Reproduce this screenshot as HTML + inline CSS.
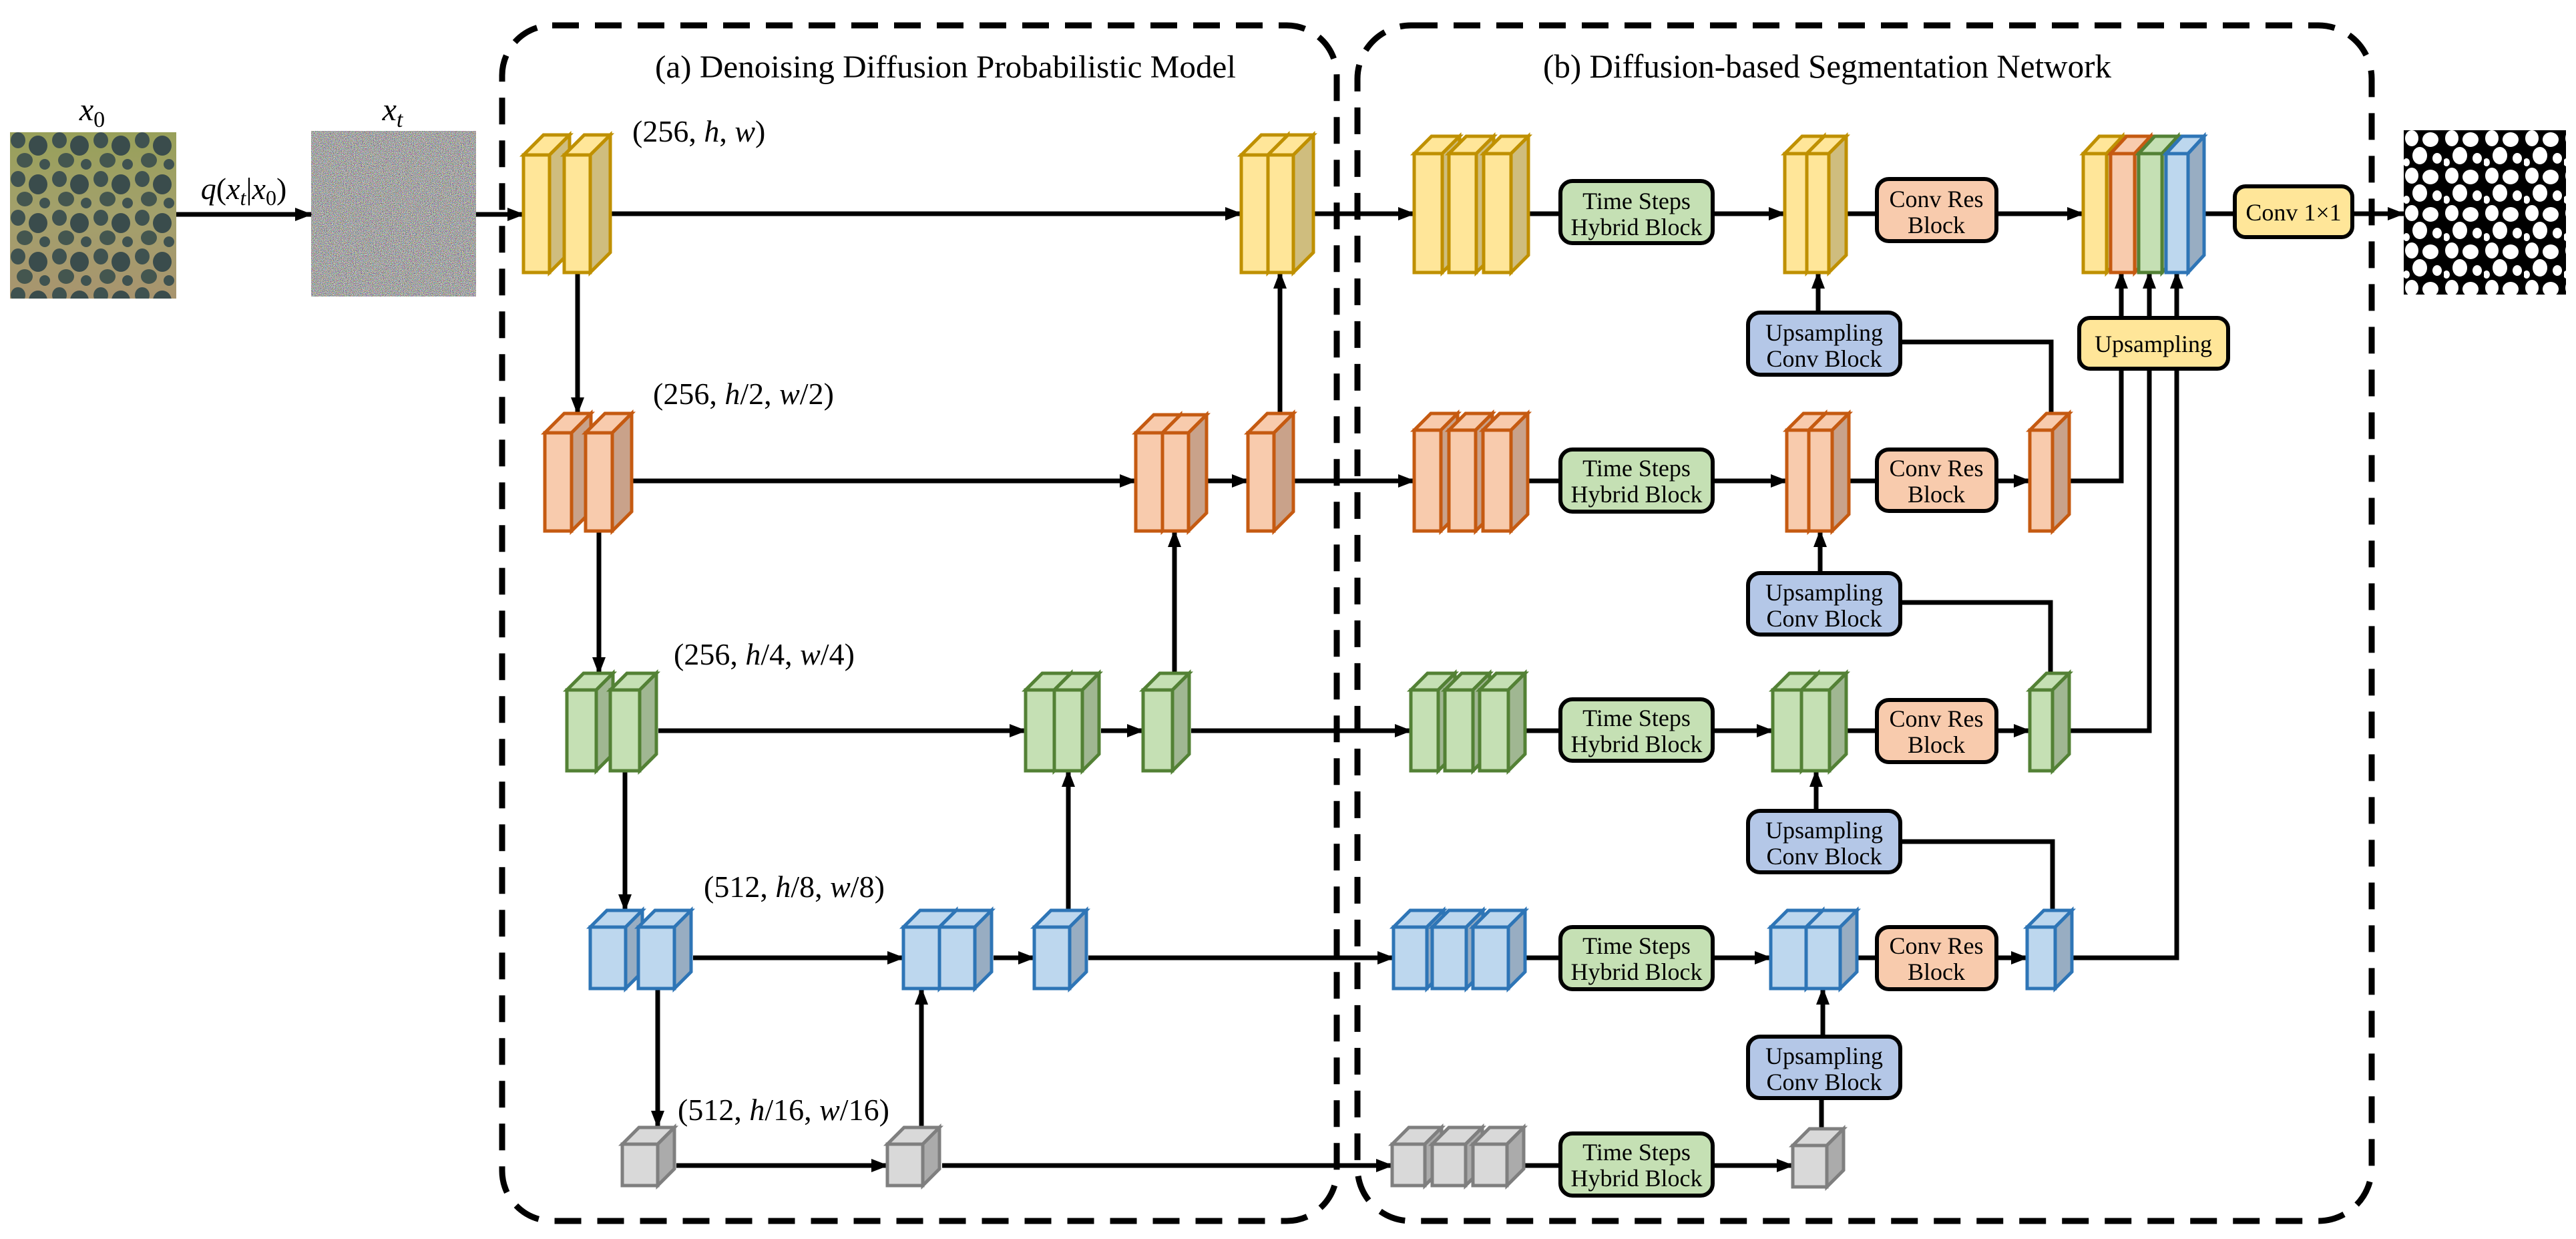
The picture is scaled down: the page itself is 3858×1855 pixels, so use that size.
<!DOCTYPE html>
<html><head><meta charset="utf-8"><style>
html,body{margin:0;padding:0;background:#fff}
svg{display:block}
text{font-family:"Liberation Serif",serif}
</style></head><body>
<svg width="3858" height="1855" viewBox="0 0 3858 1855" xmlns="http://www.w3.org/2000/svg">
<defs>
<marker id="ah" markerUnits="userSpaceOnUse" markerWidth="26" markerHeight="20" refX="24" refY="10" orient="auto"><path d="M0,0 L26,10 L0,20 Z" fill="#000"/></marker>
<linearGradient id="sea" x1="0" y1="0" x2="0" y2="1"><stop offset="0" stop-color="#98a05a"/><stop offset="0.5" stop-color="#a3a06c"/><stop offset="1" stop-color="#a8946e"/></linearGradient>
<pattern id="nod" width="62" height="58" patternUnits="userSpaceOnUse" x="15" y="198">
<ellipse cx="12" cy="12" rx="11" ry="12" fill="#3f5250"/><ellipse cx="42" cy="20" rx="14" ry="15" fill="#3a4c4c"/><ellipse cx="22" cy="42" rx="12" ry="11" fill="#44564f"/><ellipse cx="52" cy="48" rx="8" ry="8" fill="#3f5250"/></pattern>
<pattern id="seg" width="60" height="56" patternUnits="userSpaceOnUse" x="3600" y="195">
<rect width="60" height="56" fill="#000"/><ellipse cx="12" cy="12" rx="10" ry="12" fill="#fff"/><ellipse cx="40" cy="14" rx="12" ry="11" fill="#fff"/><ellipse cx="24" cy="38" rx="11" ry="13" fill="#fff"/><ellipse cx="50" cy="42" rx="7" ry="8" fill="#fff"/><ellipse cx="4" cy="48" rx="5" ry="6" fill="#fff"/></pattern>
<filter id="noise" x="0" y="0" width="1" height="1"><feTurbulence type="fractalNoise" baseFrequency="1.6" numOctaves="1" seed="3"/><feColorMatrix type="matrix" values="3 0 0 0 -1.05  0 3 0 0 -1.05  0 0 3 0 -1.05  0 0 0 0 1"/></filter>
</defs>

<rect x="15" y="198" width="249" height="249" fill="url(#sea)"/>
<rect x="15" y="198" width="249" height="249" fill="url(#nod)"/>
<rect x="466" y="196" width="247" height="248" fill="#777" filter="url(#noise)"/>
<rect x="3600" y="195" width="243" height="246" fill="url(#seg)"/>

<text x="138" y="180" font-size="48" font-style="italic" text-anchor="middle">x<tspan font-size="34" font-style="normal" dy="10">0</tspan></text>
<text x="588" y="180" font-size="48" font-style="italic" text-anchor="middle">x<tspan font-size="34" dy="10">t</tspan></text>
<text x="365" y="298" font-size="46" text-anchor="middle"><tspan font-style="italic">q</tspan>(<tspan font-style="italic">x</tspan><tspan font-size="32" font-style="italic" dy="9">t</tspan><tspan dy="-9">|</tspan><tspan font-style="italic">x</tspan><tspan font-size="32" dy="9">0</tspan><tspan dy="-9">)</tspan></text>

<rect x="752" y="38" width="1250" height="1790" rx="75" fill="none" stroke="#000" stroke-width="9" stroke-dasharray="40 24"/>
<rect x="2033" y="38" width="1519" height="1790" rx="80" fill="none" stroke="#000" stroke-width="9" stroke-dasharray="40 24"/>
<text x="981" y="116" font-size="48" textLength="870" lengthAdjust="spacingAndGlyphs">(a) Denoising Diffusion Probabilistic Model</text>
<text x="2311" y="116" font-size="50" textLength="851" lengthAdjust="spacingAndGlyphs">(b) Diffusion-based Segmentation Network</text>

<g font-size="46">
<text x="947" y="212">(256, <tspan font-style="italic">h</tspan>, <tspan font-style="italic">w</tspan>)</text>
<text x="978" y="605">(256, <tspan font-style="italic">h</tspan>/2, <tspan font-style="italic">w</tspan>/2)</text>
<text x="1009" y="995">(256, <tspan font-style="italic">h</tspan>/4, <tspan font-style="italic">w</tspan>/4)</text>
<text x="1054" y="1343">(512, <tspan font-style="italic">h</tspan>/8, <tspan font-style="italic">w</tspan>/8)</text>
<text x="1015" y="1677">(512, <tspan font-style="italic">h</tspan>/16, <tspan font-style="italic">w</tspan>/16)</text>
</g>

<g stroke="#000" stroke-width="7" fill="none">
<line x1="264" y1="321" x2="466" y2="321" marker-end="url(#ah)"/>
<line x1="713" y1="321" x2="784" y2="321" marker-end="url(#ah)"/>
<line x1="915" y1="320" x2="1859" y2="320" marker-end="url(#ah)"/>
<line x1="1967" y1="320" x2="2118" y2="320" marker-end="url(#ah)"/>
<line x1="946" y1="720" x2="1701" y2="720" marker-end="url(#ah)"/>
<line x1="1808" y1="720" x2="1869" y2="720" marker-end="url(#ah)"/>
<line x1="1937" y1="720" x2="2118" y2="720" marker-end="url(#ah)"/>
<line x1="986" y1="1094" x2="1536" y2="1094" marker-end="url(#ah)"/>
<line x1="1649" y1="1094" x2="1712" y2="1094" marker-end="url(#ah)"/>
<line x1="1784" y1="1094" x2="2113" y2="1094" marker-end="url(#ah)"/>
<line x1="1038" y1="1434" x2="1353" y2="1434" marker-end="url(#ah)"/>
<line x1="1488" y1="1434" x2="1549" y2="1434" marker-end="url(#ah)"/>
<line x1="1630" y1="1434" x2="2087" y2="1434" marker-end="url(#ah)"/>
<line x1="1013" y1="1745" x2="1329" y2="1745" marker-end="url(#ah)"/>
<line x1="1411" y1="1745" x2="2085" y2="1745" marker-end="url(#ah)"/>
<line x1="865" y1="408" x2="865" y2="619" marker-end="url(#ah)"/>
<line x1="897" y1="795" x2="897" y2="1008" marker-end="url(#ah)"/>
<line x1="936" y1="1154" x2="936" y2="1363" marker-end="url(#ah)"/>
<line x1="985" y1="1480" x2="985" y2="1687" marker-end="url(#ah)"/>
<line x1="1380" y1="1687" x2="1380" y2="1480" marker-end="url(#ah)"/>
<line x1="1600" y1="1363" x2="1600" y2="1154" marker-end="url(#ah)"/>
<line x1="1759" y1="1008" x2="1759" y2="795" marker-end="url(#ah)"/>
<line x1="1917" y1="619" x2="1917" y2="408" marker-end="url(#ah)"/>
<line x1="2288" y1="320" x2="2338" y2="320"/>
<line x1="2563" y1="320" x2="2673" y2="320" marker-end="url(#ah)"/>
<line x1="2764" y1="320" x2="2813" y2="320"/>
<line x1="2988" y1="320" x2="3120" y2="320" marker-end="url(#ah)"/>
<line x1="3301" y1="320" x2="3347" y2="320"/>
<line x1="3523" y1="320" x2="3600" y2="320" marker-end="url(#ah)"/>
<line x1="2288" y1="720" x2="2337" y2="720"/>
<line x1="2565" y1="720" x2="2676" y2="720" marker-end="url(#ah)"/>
<line x1="2768" y1="720" x2="2811" y2="720"/>
<line x1="2990" y1="720" x2="3040" y2="720" marker-end="url(#ah)"/>
<polyline points="3098,720 3177,720 3177,408"/>
<line x1="2283" y1="1094" x2="2337" y2="1094"/>
<line x1="2565" y1="1094" x2="2655" y2="1094" marker-end="url(#ah)"/>
<line x1="2764" y1="1094" x2="2811" y2="1094"/>
<line x1="2990" y1="1094" x2="3040" y2="1094" marker-end="url(#ah)"/>
<polyline points="3098,1094 3219,1094 3219,408"/>
<line x1="2283" y1="1434" x2="2337" y2="1434"/>
<line x1="2565" y1="1434" x2="2652" y2="1434" marker-end="url(#ah)"/>
<line x1="2779" y1="1434" x2="2811" y2="1434"/>
<line x1="2990" y1="1434" x2="3036" y2="1434" marker-end="url(#ah)"/>
<polyline points="3103,1434 3260,1434 3260,408"/>
<line x1="2282" y1="1745" x2="2337" y2="1745"/>
<line x1="2565" y1="1745" x2="2685" y2="1745" marker-end="url(#ah)"/>
<line x1="3177" y1="476" x2="3177" y2="408" marker-end="url(#ah)"/>
<line x1="3219" y1="476" x2="3219" y2="408" marker-end="url(#ah)"/>
<line x1="3260" y1="476" x2="3260" y2="408" marker-end="url(#ah)"/>
<line x1="2723" y1="468" x2="2723" y2="408" marker-end="url(#ah)"/>
<polyline points="2844,512 3072,512 3072,619"/>
<line x1="2726" y1="858" x2="2726" y2="795" marker-end="url(#ah)"/>
<polyline points="2846,902 3071,902 3071,1008"/>
<line x1="2720" y1="1214" x2="2720" y2="1154" marker-end="url(#ah)"/>
<polyline points="2846,1260 3074,1260 3074,1363"/>
<line x1="2730" y1="1552" x2="2730" y2="1480" marker-end="url(#ah)"/>
<line x1="2728" y1="1644" x2="2728" y2="1689"/>
</g>

<g stroke-width="5" stroke-linejoin="miter">
<g stroke="#BF9000">
<rect x="784" y="232" width="39" height="176" fill="#FFE699"/><polygon points="784,232 814,202 853,202 823,232" fill="#FFE699"/><polygon points="823,232 853,202 853,378 823,408" fill="#CFBD7E"/>
<rect x="845" y="232" width="39" height="176" fill="#FFE699"/><polygon points="845,232 875,202 914,202 884,232" fill="#FFE699"/><polygon points="884,232 914,202 914,378 884,408" fill="#CFBD7E"/>
<rect x="1859" y="232" width="40" height="176" fill="#FFE699"/><polygon points="1859,232 1889,202 1929,202 1899,232" fill="#FFE699"/><polygon points="1899,232 1929,202 1929,378 1899,408" fill="#CFBD7E"/>
<rect x="1899" y="232" width="38" height="176" fill="#FFE699"/><polygon points="1899,232 1929,202 1967,202 1937,232" fill="#FFE699"/><polygon points="1937,232 1967,202 1967,378 1937,408" fill="#CFBD7E"/>
<rect x="2118" y="230" width="42" height="178" fill="#FFE699"/><polygon points="2118,230 2144,204 2186,204 2160,230" fill="#FFE699"/><polygon points="2160,230 2186,204 2186,382 2160,408" fill="#CFBD7E"/>
<rect x="2170" y="230" width="41" height="178" fill="#FFE699"/><polygon points="2170,230 2196,204 2237,204 2211,230" fill="#FFE699"/><polygon points="2211,230 2237,204 2237,382 2211,408" fill="#CFBD7E"/>
<rect x="2222" y="230" width="41" height="178" fill="#FFE699"/><polygon points="2222,230 2248,204 2289,204 2263,230" fill="#FFE699"/><polygon points="2263,230 2289,204 2289,382 2263,408" fill="#CFBD7E"/>
<rect x="2673" y="230" width="33" height="178" fill="#FFE699"/><polygon points="2673,230 2699,204 2732,204 2706,230" fill="#FFE699"/><polygon points="2706,230 2732,204 2732,382 2706,408" fill="#CFBD7E"/>
<rect x="2706" y="230" width="33" height="178" fill="#FFE699"/><polygon points="2706,230 2732,204 2765,204 2739,230" fill="#FFE699"/><polygon points="2739,230 2765,204 2765,382 2739,408" fill="#CFBD7E"/>
<rect x="3120" y="230" width="35" height="178" fill="#FFE699"/><polygon points="3120,230 3144,204 3179,204 3155,230" fill="#FFE699"/><polygon points="3155,230 3179,204 3179,382 3155,408" fill="#CFBD7E"/>
</g>
<g stroke="#C55A11">
<rect x="3161" y="230" width="36" height="178" fill="#F8CBAD"/><polygon points="3161,230 3185,204 3221,204 3197,230" fill="#F8CBAD"/><polygon points="3197,230 3221,204 3221,382 3197,408" fill="#C9A28A"/>
<rect x="816" y="648" width="40" height="147" fill="#F8CBAD"/><polygon points="816,648 845,619 885,619 856,648" fill="#F8CBAD"/><polygon points="856,648 885,619 885,766 856,795" fill="#C9A28A"/>
<rect x="877" y="648" width="40" height="147" fill="#F8CBAD"/><polygon points="877,648 906,619 946,619 917,648" fill="#F8CBAD"/><polygon points="917,648 946,619 946,766 917,795" fill="#C9A28A"/>
<rect x="1701" y="648" width="40" height="147" fill="#F8CBAD"/><polygon points="1701,648 1728,621 1768,621 1741,648" fill="#F8CBAD"/><polygon points="1741,648 1768,621 1768,768 1741,795" fill="#C9A28A"/>
<rect x="1741" y="648" width="39" height="147" fill="#F8CBAD"/><polygon points="1741,648 1768,621 1807,621 1780,648" fill="#F8CBAD"/><polygon points="1780,648 1807,621 1807,768 1780,795" fill="#C9A28A"/>
<rect x="1869" y="648" width="39" height="147" fill="#F8CBAD"/><polygon points="1869,648 1898,619 1937,619 1908,648" fill="#F8CBAD"/><polygon points="1908,648 1937,619 1937,766 1908,795" fill="#C9A28A"/>
<rect x="2118" y="644" width="40" height="151" fill="#F8CBAD"/><polygon points="2118,644 2143,619 2183,619 2158,644" fill="#F8CBAD"/><polygon points="2158,644 2183,619 2183,770 2158,795" fill="#C9A28A"/>
<rect x="2170" y="644" width="40" height="151" fill="#F8CBAD"/><polygon points="2170,644 2195,619 2235,619 2210,644" fill="#F8CBAD"/><polygon points="2210,644 2235,619 2235,770 2210,795" fill="#C9A28A"/>
<rect x="2221" y="644" width="42" height="151" fill="#F8CBAD"/><polygon points="2221,644 2246,619 2288,619 2263,644" fill="#F8CBAD"/><polygon points="2263,644 2288,619 2288,770 2263,795" fill="#C9A28A"/>
<rect x="2676" y="644" width="33" height="151" fill="#F8CBAD"/><polygon points="2676,644 2701,619 2734,619 2709,644" fill="#F8CBAD"/><polygon points="2709,644 2734,619 2734,770 2709,795" fill="#C9A28A"/>
<rect x="2709" y="644" width="35" height="151" fill="#F8CBAD"/><polygon points="2709,644 2734,619 2769,619 2744,644" fill="#F8CBAD"/><polygon points="2744,644 2769,619 2769,770 2744,795" fill="#C9A28A"/>
<rect x="3040" y="644" width="34" height="151" fill="#F8CBAD"/><polygon points="3040,644 3065,619 3099,619 3074,644" fill="#F8CBAD"/><polygon points="3074,644 3099,619 3099,770 3074,795" fill="#C9A28A"/>
</g>
<g stroke="#538135">
<rect x="3203" y="230" width="35" height="178" fill="#C5E0B4"/><polygon points="3203,230 3227,204 3262,204 3238,230" fill="#C5E0B4"/><polygon points="3238,230 3262,204 3262,382 3238,408" fill="#A0B792"/>
<rect x="849" y="1033" width="44" height="121" fill="#C5E0B4"/><polygon points="849,1033 874,1008 918,1008 893,1033" fill="#C5E0B4"/><polygon points="893,1033 918,1008 918,1129 893,1154" fill="#A0B792"/>
<rect x="914" y="1033" width="44" height="121" fill="#C5E0B4"/><polygon points="914,1033 939,1008 983,1008 958,1033" fill="#C5E0B4"/><polygon points="958,1033 983,1008 983,1129 958,1154" fill="#A0B792"/>
<rect x="1536" y="1033" width="43" height="121" fill="#C5E0B4"/><polygon points="1536,1033 1561,1008 1604,1008 1579,1033" fill="#C5E0B4"/><polygon points="1579,1033 1604,1008 1604,1129 1579,1154" fill="#A0B792"/>
<rect x="1579" y="1033" width="42" height="121" fill="#C5E0B4"/><polygon points="1579,1033 1604,1008 1646,1008 1621,1033" fill="#C5E0B4"/><polygon points="1621,1033 1646,1008 1646,1129 1621,1154" fill="#A0B792"/>
<rect x="1712" y="1033" width="44" height="121" fill="#C5E0B4"/><polygon points="1712,1033 1737,1008 1781,1008 1756,1033" fill="#C5E0B4"/><polygon points="1756,1033 1781,1008 1781,1129 1756,1154" fill="#A0B792"/>
<rect x="2113" y="1033" width="41" height="121" fill="#C5E0B4"/><polygon points="2113,1033 2138,1008 2179,1008 2154,1033" fill="#C5E0B4"/><polygon points="2154,1033 2179,1008 2179,1129 2154,1154" fill="#A0B792"/>
<rect x="2164" y="1033" width="42" height="121" fill="#C5E0B4"/><polygon points="2164,1033 2189,1008 2231,1008 2206,1033" fill="#C5E0B4"/><polygon points="2206,1033 2231,1008 2231,1129 2206,1154" fill="#A0B792"/>
<rect x="2216" y="1033" width="43" height="121" fill="#C5E0B4"/><polygon points="2216,1033 2241,1008 2284,1008 2259,1033" fill="#C5E0B4"/><polygon points="2259,1033 2284,1008 2284,1129 2259,1154" fill="#A0B792"/>
<rect x="2655" y="1033" width="43" height="121" fill="#C5E0B4"/><polygon points="2655,1033 2680,1008 2723,1008 2698,1033" fill="#C5E0B4"/><polygon points="2698,1033 2723,1008 2723,1129 2698,1154" fill="#A0B792"/>
<rect x="2698" y="1033" width="42" height="121" fill="#C5E0B4"/><polygon points="2698,1033 2723,1008 2765,1008 2740,1033" fill="#C5E0B4"/><polygon points="2740,1033 2765,1008 2765,1129 2740,1154" fill="#A0B792"/>
<rect x="3040" y="1033" width="34" height="121" fill="#C5E0B4"/><polygon points="3040,1033 3065,1008 3099,1008 3074,1033" fill="#C5E0B4"/><polygon points="3074,1033 3099,1008 3099,1129 3074,1154" fill="#A0B792"/>
</g>
<g stroke="#2E75B6">
<rect x="3244" y="230" width="33" height="178" fill="#BDD7EE"/><polygon points="3244,230 3268,204 3301,204 3277,230" fill="#BDD7EE"/><polygon points="3277,230 3301,204 3301,382 3277,408" fill="#98ADC2"/>
<rect x="884" y="1388" width="53" height="92" fill="#BDD7EE"/><polygon points="884,1388 909,1363 962,1363 937,1388" fill="#BDD7EE"/><polygon points="937,1388 962,1363 962,1455 937,1480" fill="#98ADC2"/>
<rect x="956" y="1388" width="54" height="92" fill="#BDD7EE"/><polygon points="956,1388 981,1363 1035,1363 1010,1388" fill="#BDD7EE"/><polygon points="1010,1388 1035,1363 1035,1455 1010,1480" fill="#98ADC2"/>
<rect x="1353" y="1388" width="54" height="92" fill="#BDD7EE"/><polygon points="1353,1388 1378,1363 1432,1363 1407,1388" fill="#BDD7EE"/><polygon points="1407,1388 1432,1363 1432,1455 1407,1480" fill="#98ADC2"/>
<rect x="1407" y="1388" width="53" height="92" fill="#BDD7EE"/><polygon points="1407,1388 1432,1363 1485,1363 1460,1388" fill="#BDD7EE"/><polygon points="1460,1388 1485,1363 1485,1455 1460,1480" fill="#98ADC2"/>
<rect x="1549" y="1388" width="53" height="92" fill="#BDD7EE"/><polygon points="1549,1388 1574,1363 1627,1363 1602,1388" fill="#BDD7EE"/><polygon points="1602,1388 1627,1363 1627,1455 1602,1480" fill="#98ADC2"/>
<rect x="2087" y="1388" width="50" height="92" fill="#BDD7EE"/><polygon points="2087,1388 2112,1363 2162,1363 2137,1388" fill="#BDD7EE"/><polygon points="2137,1388 2162,1363 2162,1455 2137,1480" fill="#98ADC2"/>
<rect x="2145" y="1388" width="51" height="92" fill="#BDD7EE"/><polygon points="2145,1388 2170,1363 2221,1363 2196,1388" fill="#BDD7EE"/><polygon points="2196,1388 2221,1363 2221,1455 2196,1480" fill="#98ADC2"/>
<rect x="2206" y="1388" width="53" height="92" fill="#BDD7EE"/><polygon points="2206,1388 2231,1363 2284,1363 2259,1388" fill="#BDD7EE"/><polygon points="2259,1388 2284,1363 2284,1455 2259,1480" fill="#98ADC2"/>
<rect x="2652" y="1388" width="53" height="92" fill="#BDD7EE"/><polygon points="2652,1388 2677,1363 2730,1363 2705,1388" fill="#BDD7EE"/><polygon points="2705,1388 2730,1363 2730,1455 2705,1480" fill="#98ADC2"/>
<rect x="2705" y="1388" width="51" height="92" fill="#BDD7EE"/><polygon points="2705,1388 2730,1363 2781,1363 2756,1388" fill="#BDD7EE"/><polygon points="2756,1388 2781,1363 2781,1455 2756,1480" fill="#98ADC2"/>
<rect x="3036" y="1388" width="42" height="92" fill="#BDD7EE"/><polygon points="3036,1388 3061,1363 3103,1363 3078,1388" fill="#BDD7EE"/><polygon points="3078,1388 3103,1363 3103,1455 3078,1480" fill="#98ADC2"/>
</g>
<g stroke="#7F7F7F">
<rect x="932" y="1713" width="53" height="62" fill="#D9D9D9"/><polygon points="932,1713 957,1688 1010,1688 985,1713" fill="#D9D9D9"/><polygon points="985,1713 1010,1688 1010,1750 985,1775" fill="#ABABAB"/>
<rect x="1329" y="1713" width="53" height="62" fill="#D9D9D9"/><polygon points="1329,1713 1354,1688 1407,1688 1382,1713" fill="#D9D9D9"/><polygon points="1382,1713 1407,1688 1407,1750 1382,1775" fill="#ABABAB"/>
<rect x="2085" y="1713" width="49" height="62" fill="#D9D9D9"/><polygon points="2085,1713 2110,1688 2159,1688 2134,1713" fill="#D9D9D9"/><polygon points="2134,1713 2159,1688 2159,1750 2134,1775" fill="#ABABAB"/>
<rect x="2145" y="1713" width="50" height="62" fill="#D9D9D9"/><polygon points="2145,1713 2170,1688 2220,1688 2195,1713" fill="#D9D9D9"/><polygon points="2195,1713 2220,1688 2220,1750 2195,1775" fill="#ABABAB"/>
<rect x="2206" y="1713" width="51" height="62" fill="#D9D9D9"/><polygon points="2206,1713 2231,1688 2282,1688 2257,1713" fill="#D9D9D9"/><polygon points="2257,1713 2282,1688 2282,1750 2257,1775" fill="#ABABAB"/>
<rect x="2685" y="1715" width="51" height="62" fill="#D9D9D9"/><polygon points="2685,1715 2710,1690 2761,1690 2736,1715" fill="#D9D9D9"/><polygon points="2736,1715 2761,1690 2761,1752 2736,1777" fill="#ABABAB"/>
</g>
</g>

<g stroke="#000" stroke-width="6">
<rect x="2337" y="271" width="228" height="93" rx="18" fill="#C5E0B4"/>
<rect x="2337" y="673" width="228" height="93" rx="18" fill="#C5E0B4"/>
<rect x="2337" y="1047" width="228" height="92" rx="18" fill="#C5E0B4"/>
<rect x="2337" y="1388" width="228" height="93" rx="18" fill="#C5E0B4"/>
<rect x="2337" y="1697" width="228" height="93" rx="18" fill="#C5E0B4"/>
<rect x="2811" y="268" width="179" height="93" rx="18" fill="#F8CBAD"/>
<rect x="2811" y="673" width="179" height="92" rx="18" fill="#F8CBAD"/>
<rect x="2811" y="1048" width="179" height="93" rx="18" fill="#F8CBAD"/>
<rect x="2811" y="1388" width="179" height="93" rx="18" fill="#F8CBAD"/>
<rect x="2618" y="468" width="228" height="93" rx="18" fill="#B4C7E7"/>
<rect x="2618" y="858" width="228" height="92" rx="18" fill="#B4C7E7"/>
<rect x="2618" y="1214" width="228" height="92" rx="18" fill="#B4C7E7"/>
<rect x="2618" y="1552" width="228" height="92" rx="18" fill="#B4C7E7"/>
<rect x="3114" y="476" width="223" height="76" rx="16" fill="#FFE699"/>
<rect x="3347" y="279" width="176" height="76" rx="16" fill="#FFE699"/>
</g>

<g font-size="36" text-anchor="middle">
<text x="2451" y="313">Time Steps</text><text x="2451" y="352">Hybrid Block</text>
<text x="2451" y="713">Time Steps</text><text x="2451" y="752">Hybrid Block</text>
<text x="2451" y="1087">Time Steps</text><text x="2451" y="1126">Hybrid Block</text>
<text x="2451" y="1428">Time Steps</text><text x="2451" y="1467">Hybrid Block</text>
<text x="2451" y="1737">Time Steps</text><text x="2451" y="1776">Hybrid Block</text>
<text x="2900" y="310">Conv Res</text><text x="2900" y="349">Block</text>
<text x="2900" y="713">Conv Res</text><text x="2900" y="752">Block</text>
<text x="2900" y="1088">Conv Res</text><text x="2900" y="1127">Block</text>
<text x="2900" y="1428">Conv Res</text><text x="2900" y="1467">Block</text>
<text x="2732" y="510">Upsampling</text><text x="2732" y="549">Conv Block</text>
<text x="2732" y="899">Upsampling</text><text x="2732" y="938">Conv Block</text>
<text x="2732" y="1255">Upsampling</text><text x="2732" y="1294">Conv Block</text>
<text x="2732" y="1593">Upsampling</text><text x="2732" y="1632">Conv Block</text>
<text x="3225" y="527">Upsampling</text>
<text x="3435" y="330">Conv 1×1</text>
</g>
</svg>
</body></html>
